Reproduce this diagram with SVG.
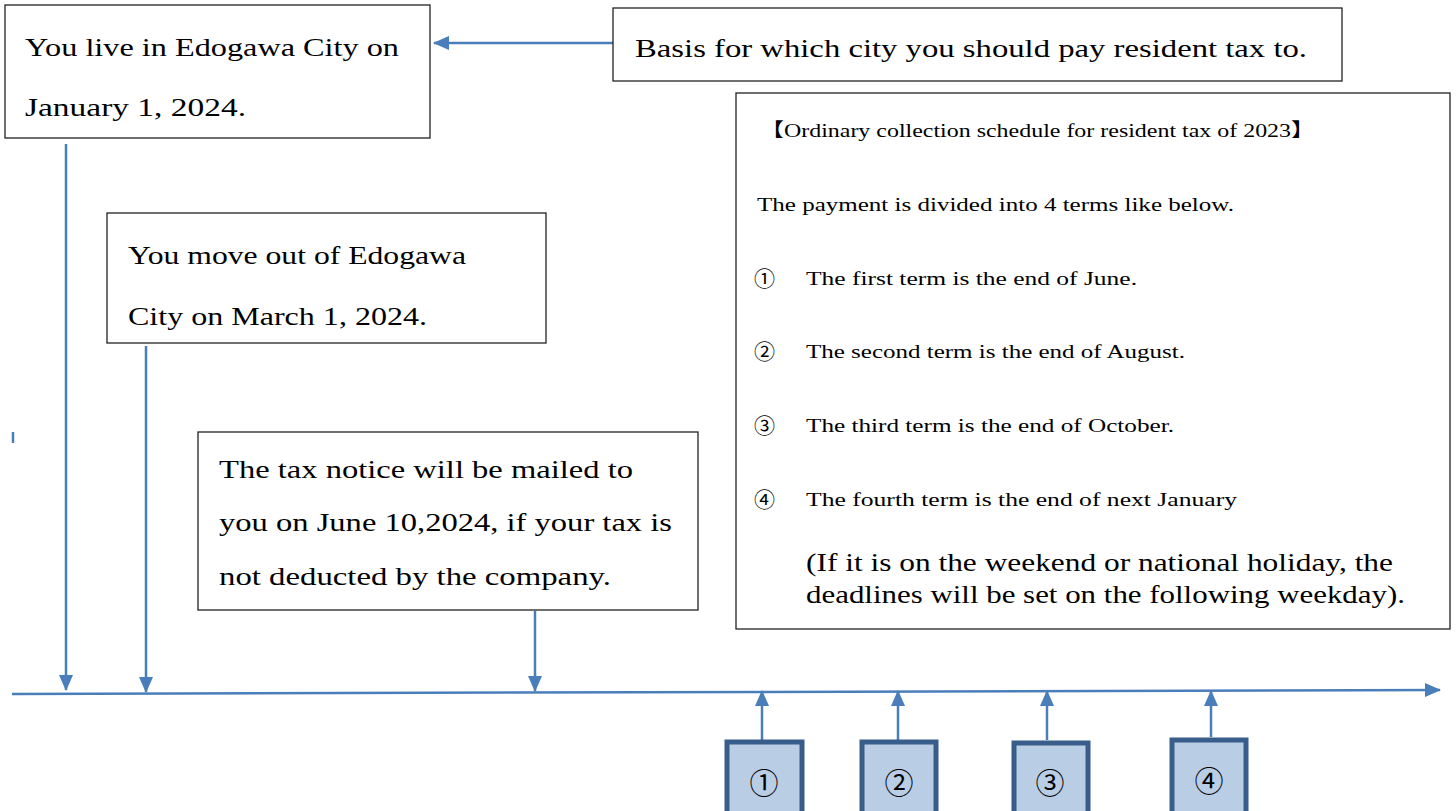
<svg xmlns="http://www.w3.org/2000/svg" width="1456" height="811" viewBox="0 0 1456 811">
<defs>
<style>
.box{fill:#fff;stroke:#222;stroke-width:1.3}
.t{font-family:"Liberation Serif","Noto Sans CJK JP",serif;fill:#000}
.big{font-size:26px}
.sm{font-size:19px}
.num{font-family:"Noto Sans CJK JP","Liberation Serif",serif;fill:#000}
.con{stroke:#4a7ebb;stroke-width:2.5;fill:none}
.term{fill:#b9cde5;stroke:#385d8a;stroke-width:5}
</style>
<marker id="ah" markerUnits="userSpaceOnUse" markerWidth="16" markerHeight="14" refX="15" refY="7" orient="auto">
<path d="M0,0 L16,7 L0,14 Z" fill="#4a7ebb"/>
</marker>
</defs>

<g id="connectors">
<line class="con" x1="613" y1="43" x2="434" y2="43" marker-end="url(#ah)"/>
<line class="con" x1="66" y1="144" x2="66" y2="690" marker-end="url(#ah)"/>
<line class="con" x1="146" y1="346" x2="146" y2="692" marker-end="url(#ah)"/>
<line class="con" x1="535" y1="611" x2="535" y2="691" marker-end="url(#ah)"/>
<line class="con" x1="13" y1="432" x2="13" y2="443" stroke-width="2"/>
<line class="con" x1="12" y1="694" x2="1440" y2="690" marker-end="url(#ah)"/>
<line class="con" x1="762" y1="740" x2="762" y2="691" marker-end="url(#ah)"/>
<line class="con" x1="898" y1="740" x2="898" y2="691" marker-end="url(#ah)"/>
<line class="con" x1="1047" y1="740" x2="1047" y2="691" marker-end="url(#ah)"/>
<line class="con" x1="1211" y1="737" x2="1211" y2="691" marker-end="url(#ah)"/>
</g>

<g id="node-live">
<rect class="box" x="5" y="5" width="425" height="133"/>
<text class="t big" x="25" y="56" textLength="374" lengthAdjust="spacingAndGlyphs">You live in Edogawa City on</text>
<text class="t big" x="25" y="116" textLength="221" lengthAdjust="spacingAndGlyphs">January 1, 2024.</text>
</g>

<g id="node-basis">
<rect class="box" x="613" y="8" width="729" height="73"/>
<text class="t big" x="635" y="57" textLength="672" lengthAdjust="spacingAndGlyphs">Basis for which city you should pay resident tax to.</text>
</g>

<g id="node-move">
<rect class="box" x="107" y="213" width="439" height="130"/>
<text class="t big" x="128" y="264" textLength="338" lengthAdjust="spacingAndGlyphs">You move out of Edogawa</text>
<text class="t big" x="128" y="325" textLength="299" lengthAdjust="spacingAndGlyphs">City on March 1, 2024.</text>
</g>

<g id="node-notice">
<rect class="box" x="198" y="432" width="500" height="178"/>
<text class="t big" x="219" y="478" textLength="414" lengthAdjust="spacingAndGlyphs">The tax notice will be mailed to</text>
<text class="t big" x="219" y="531" textLength="453" lengthAdjust="spacingAndGlyphs">you on June 10,2024, if your tax is</text>
<text class="t big" x="219" y="585" textLength="392" lengthAdjust="spacingAndGlyphs">not deducted by the company.</text>
</g>

<g id="node-schedule">
<rect class="box" x="736" y="93" width="714" height="536"/>
<text class="t sm" x="760" y="137" textLength="555" lengthAdjust="spacingAndGlyphs">【Ordinary collection schedule for resident tax of 2023】</text>
<text class="t sm" x="757" y="211" textLength="477" lengthAdjust="spacingAndGlyphs">The payment is divided into 4 terms like below.</text>
<text class="num" font-size="21" x="754" y="286">①</text>
<text class="t sm" x="806" y="285" textLength="331" lengthAdjust="spacingAndGlyphs">The first term is the end of June.</text>
<text class="num" font-size="21" x="754" y="359">②</text>
<text class="t sm" x="806" y="358" textLength="379" lengthAdjust="spacingAndGlyphs">The second term is the end of August.</text>
<text class="num" font-size="21" x="754" y="433">③</text>
<text class="t sm" x="806" y="432" textLength="368" lengthAdjust="spacingAndGlyphs">The third term is the end of October.</text>
<text class="num" font-size="21" x="754" y="507">④</text>
<text class="t sm" x="806" y="506" textLength="431" lengthAdjust="spacingAndGlyphs">The fourth term is the end of next January</text>
<text class="t big" x="806" y="571" textLength="587" lengthAdjust="spacingAndGlyphs">(If it is on the weekend or national holiday, the</text>
<text class="t big" x="806" y="603" textLength="599" lengthAdjust="spacingAndGlyphs">deadlines will be set on the following weekday).</text>
</g>

<g id="term1">
<rect class="term" x="727" y="742" width="75" height="75"/>
<text class="num" x="764" y="794" font-size="29" text-anchor="middle">①</text>
</g>
<g id="term2">
<rect class="term" x="862" y="742" width="74" height="75"/>
<text class="num" x="899" y="794" font-size="29" text-anchor="middle">②</text>
</g>
<g id="term3">
<rect class="term" x="1014" y="743" width="74" height="75"/>
<text class="num" x="1050" y="794" font-size="29" text-anchor="middle">③</text>
</g>
<g id="term4">
<rect class="term" x="1172" y="740" width="74" height="75"/>
<text class="num" x="1209" y="792" font-size="29" text-anchor="middle">④</text>
</g>
</svg>
